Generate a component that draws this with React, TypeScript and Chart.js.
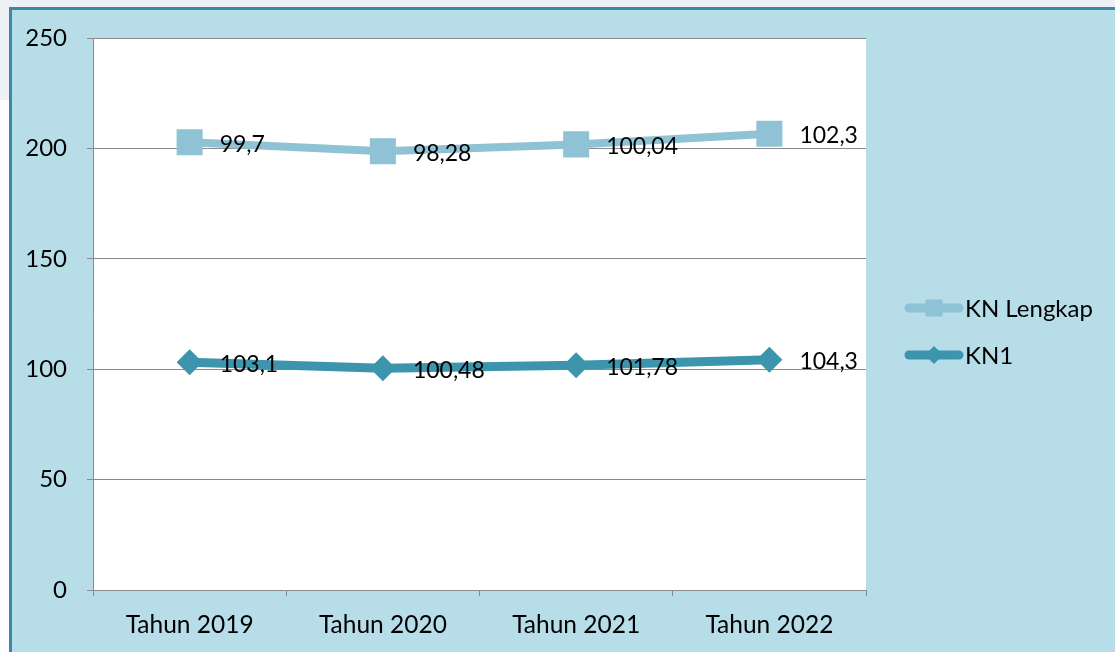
import React, { useEffect, useRef } from 'react';
import { Chart, registerables } from 'chart.js';

Chart.register(...registerables);

const categories = ['Tahun 2019', 'Tahun 2020', 'Tahun 2021', 'Tahun 2022'];
const knLengkap = [99.7, 98.28, 100.04, 102.3];
const kn1 = [103.1, 100.48, 101.78, 104.3];
const seriesNames = ['KN Lengkap', 'KN1'];

const COLOR_LENGKAP = '#8fc2d5';
const COLOR_KN1 = '#3d95ad';
const GRID = '#8a8a8a';
const FONT = 'Lato';

const fmt = (v: number) => String(v).replace('.', ',');

const bgPlugin = {
  id: 'plotBg',
  beforeDraw(chart: any) {
    const { ctx, chartArea } = chart;
    ctx.save();
    ctx.fillStyle = '#ffffff';
    ctx.fillRect(chartArea.left, chartArea.top, chartArea.right - chartArea.left, chartArea.bottom - chartArea.top);
    ctx.restore();
  },
};

const labelPlugin = {
  id: 'valueLabels',
  afterDatasetsDraw(chart: any) {
    const { ctx } = chart;
    ctx.save();
    ctx.font = `23px ${FONT}`;
    ctx.fillStyle = '#000';
    ctx.textAlign = 'left';
    ctx.textBaseline = 'middle';
    chart.data.datasets.forEach((ds: any, i: number) => {
      const meta = chart.getDatasetMeta(i);
      meta.data.forEach((pt: any, j: number) => {
        ctx.fillText(fmt(ds.data[j]), pt.x + 30, pt.y + 2);
      });
    });
    ctx.restore();
  },
};

const legendPlugin = {
  id: 'customLegend',
  afterDraw(chart: any) {
    const { ctx } = chart;
    const items = [
      { name: seriesNames[0], color: COLOR_LENGKAP, style: 'rect', y: 298 },
      { name: seriesNames[1], color: COLOR_KN1, style: 'diamond', y: 345 },
    ];
    ctx.save();
    items.forEach((it) => {
      ctx.strokeStyle = it.color;
      ctx.fillStyle = it.color;
      ctx.lineWidth = 9;
      ctx.lineCap = 'round';
      ctx.beginPath();
      ctx.moveTo(897, it.y);
      ctx.lineTo(947, it.y);
      ctx.stroke();
      const cx = 922;
      if (it.style === 'rect') {
        ctx.fillRect(cx - 8.5, it.y - 8.5, 17, 17);
      } else {
        ctx.beginPath();
        ctx.moveTo(cx - 9, it.y);
        ctx.lineTo(cx, it.y - 9);
        ctx.lineTo(cx + 9, it.y);
        ctx.lineTo(cx, it.y + 9);
        ctx.closePath();
        ctx.fill();
      }
      ctx.fillStyle = '#000';
      ctx.font = `24px ${FONT}`;
      ctx.textAlign = 'left';
      ctx.textBaseline = 'middle';
      ctx.fillText(it.name, 953, it.y + 1);
    });
    ctx.restore();
  },
};

export default function App() {
  const ref = useRef<HTMLCanvasElement>(null);
  useEffect(() => {
    if (!ref.current) return;
    const chart = new Chart(ref.current, {
      type: 'line',
      data: {
        labels: categories,
        datasets: [
          {
            label: seriesNames[1],
            data: kn1,
            borderColor: COLOR_KN1,
            backgroundColor: COLOR_KN1,
            borderWidth: 9,
            pointStyle: 'rectRot',
            pointRadius: 13,
            pointBorderWidth: 0,
            pointBackgroundColor: COLOR_KN1,
            tension: 0,
            fill: false,
          },
          {
            label: seriesNames[0],
            data: knLengkap,
            borderColor: COLOR_LENGKAP,
            backgroundColor: COLOR_LENGKAP,
            borderWidth: 8,
            pointStyle: 'rect',
            pointRadius: 18.4,
            pointBorderWidth: 0,
            pointBackgroundColor: COLOR_LENGKAP,
            tension: 0,
            fill: false,
          },
        ],
      },
      options: {
        responsive: false,
        animation: false,
        devicePixelRatio: 1,
        layout: { padding: { top: 28, right: 249, left: 0, bottom: 0 } },
        plugins: {
          legend: { display: false },
          tooltip: { enabled: false },
        },
        scales: {
          x: {
            offset: true,
            grid: {
              offset: true,
              drawOnChartArea: false,
              drawTicks: true,
              tickLength: 6,
              color: GRID,
            },
            border: { display: true, color: GRID, width: 1 },
            ticks: {
              color: '#000',
              font: { family: FONT, size: 24.5 },
              padding: 14,
              maxRotation: 0,
            },
            afterFit(scale: any) {
              scale.height = 62;
              scale.paddingLeft = 0;
              scale.paddingRight = 0;
            },
          },
          y: {
            stacked: true,
            min: 0,
            max: 250,
            grid: { color: GRID, lineWidth: 1, drawTicks: true, tickLength: 6 },
            border: { display: true, color: GRID, width: 1 },
            ticks: {
              stepSize: 50,
              color: '#000',
              font: { family: FONT, size: 24 },
              padding: 20,
            },
            afterFit(scale: any) {
              scale.width = 81;
              scale.paddingTop = 0;
              scale.paddingBottom = 0;
            },
          },
        },
      },
      plugins: [bgPlugin, labelPlugin, legendPlugin],
    });
    return () => chart.destroy();
  }, []);

  return (
    <div style={{ position: 'fixed', left: 0, top: 0, width: 1115, height: 652, background: '#ffffff', overflow: 'hidden' }}>
      <div style={{ position: 'absolute', left: 0, top: 0, width: 1115, height: 100, background: '#edf0f5' }} />
      <div
        style={{
          position: 'absolute',
          left: 9,
          top: 7,
          width: 1120,
          height: 660,
          background: '#b7dde8',
          borderTop: '3px solid #3a8aa1',
          borderLeft: '3px solid #3a8aa1',
        }}
      >
        <canvas ref={ref} width={1103} height={642} style={{ display: 'block', width: 1103, height: 642 }} />
      </div>
    </div>
  );
}
